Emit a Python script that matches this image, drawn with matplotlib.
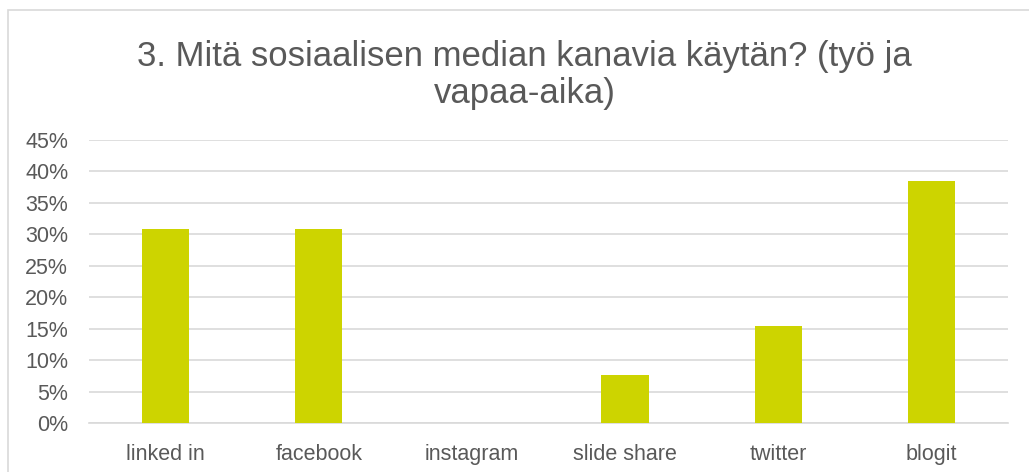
import matplotlib
matplotlib.use("Agg")
import matplotlib.pyplot as plt
from matplotlib.patches import Rectangle
from matplotlib.ticker import PercentFormatter

categories = ["linked in", "facebook", "instagram", "slide share", "twitter", "blogit"]
values = [30.77, 30.77, 0.0, 7.69, 15.38, 38.46]
yticks = [0, 5, 10, 15, 20, 25, 30, 35, 40, 45]

plt.rcParams['font.family'] = ['Liberation Sans', 'DejaVu Sans']
W, H = 1029, 472
fig = plt.figure(figsize=(W/100, H/100), dpi=100)
fig.patches.append(Rectangle((8/W, -0.1), 1.2, 1 - 10/H + 0.1, transform=fig.transFigure,
                             fill=False, edgecolor='#d9d9d9', linewidth=1.2))
ax = fig.add_axes([89/W, 1-423/H, (1008-89)/W, (423-140)/H])
x = range(len(categories))
ax.bar(x, values, width=0.31, color='#cdd400', zorder=3)
ax.set_xlim(-0.5, len(categories)-0.5)
ax.set_ylim(0, 45)
ax.set_yticks(yticks)
ax.yaxis.set_major_formatter(PercentFormatter(decimals=0))
ax.set_xticks(list(x))
ax.set_xticklabels(categories)
ax.grid(axis='y', color='#d9d9d9', linewidth=1.2, zorder=0)
for s in ['top', 'right', 'left']:
    ax.spines[s].set_visible(False)
ax.spines['bottom'].set_color('#d9d9d9')
ax.spines['bottom'].set_linewidth(1.2)
ax.tick_params(axis='both', length=0, labelsize=15.5, labelcolor='#595959')
ax.tick_params(axis='x', pad=15)
ax.tick_params(axis='y', pad=15)
fig.text(0.51, 1-75/H, "3. Mitä sosiaalisen median kanavia käytän? (työ ja\nvapaa-aika)",
         ha='center', va='center', fontsize=25, color='#595959', linespacing=1.15)
fig.savefig("out.png", dpi=100)
